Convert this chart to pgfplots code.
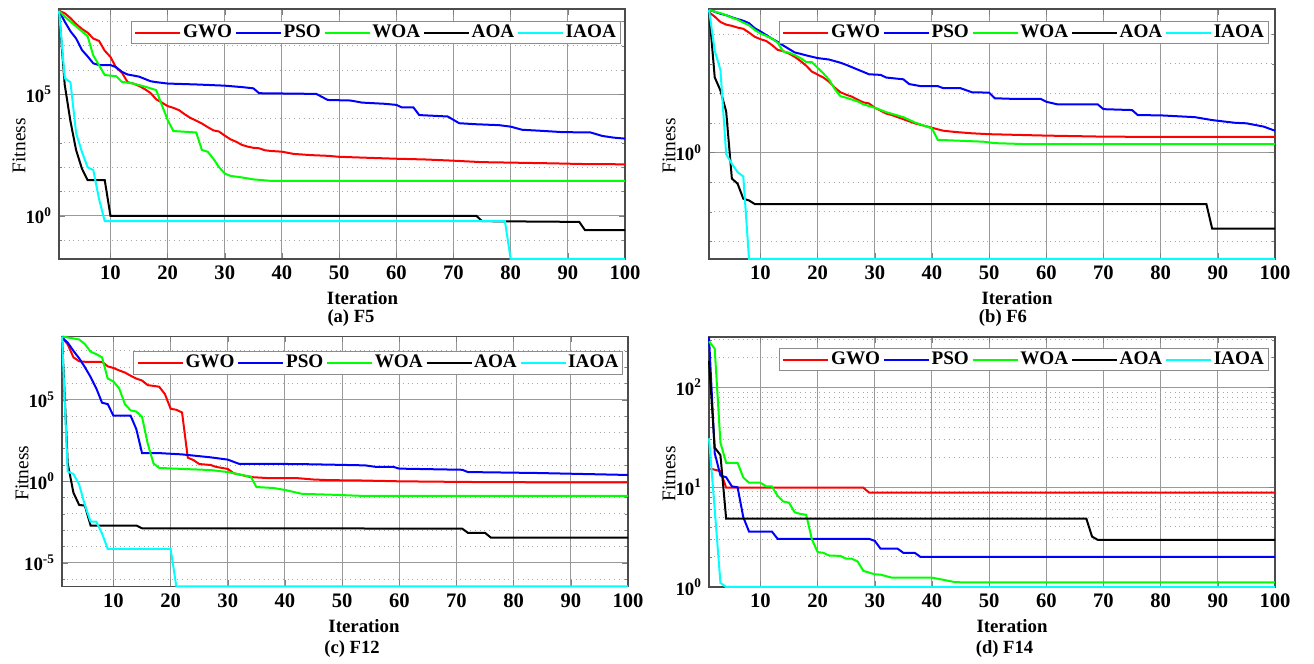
\documentclass[border=0pt]{standalone}
\usepackage{fontspec}
\setmainfont{Liberation Serif}
\usepackage{pgfplots}
\pgfplotsset{compat=1.18}

\definecolor{cgwo}{RGB}{255,0,0}
\definecolor{cpso}{RGB}{0,0,255}
\definecolor{cwoa}{RGB}{0,255,0}
\definecolor{caoa}{RGB}{0,0,0}
\definecolor{ciaoa}{RGB}{0,255,255}

\pgfplotsset{
  myaxis/.style={
    scale only axis, width=283pt, height=125pt,
    anchor=south west,
    xmin=1, xmax=100,
    xtick={10,20,...,100},
    tick align=inside,
    major tick length=3pt, minor tick length=1.5pt,
    xmajorgrids, ymajorgrids, yminorgrids,
    major grid style={black!40, line width=0.5pt},
    minor grid style={black!35, dotted, line width=0.5pt},
    axis line style={black!70, line width=0.6pt},
    xticklabel style={font=\bfseries\fontsize{10.3}{12}\selectfont},
    yticklabel style={font=\bfseries\fontsize{9.4}{11}\selectfont},
    /pgf/number format/assume math mode=true,
    ylabel={Fitness},
    ylabel style={font=\fontsize{9.7}{11}\selectfont, at={(axis description cs:-0.0707,0.453)}, anchor=center},
    clip=false,
    legend columns=5,
    legend style={anchor=north east, draw=black!45, line width=0.5pt, fill=white,
      font=\bfseries\fontsize{9.6}{10}\selectfont, inner xsep=1.5pt, inner ysep=0.8pt,
      nodes={inner sep=0.8pt},
      /tikz/every even column/.append style={column sep=0.6pt}},
    legend image code/.code={\draw[##1] (0pt,0pt) -- (22.5pt,0pt);},
    every axis plot/.append style={line width=1pt, mark=none},
  }
}

\begin{document}
\begin{tikzpicture}
\path[use as bounding box] (0,0) rectangle (657pt,332pt);

% ---------------- (a) F5 ----------------
\begin{axis}[ymode=log, myaxis, at={(29.5pt,202.5pt)},
  ymin=0.0166, ymax=3.3e8,
  ytick={1,1e5}, yticklabels={10\textsuperscript{0},10\textsuperscript{5}},
  minor ytick={1e-1,1e1,1e2,1e3,1e4,1e6,1e7,1e8},
  legend style={at={(rel axis cs:0.9929,0.952)}}]
\addplot[cgwo] coordinates {(1,2.8e8)(2,2.2e8)(3,1.4e8)(4,7.9e7)(5,5.0e7)(6,3.5e7)(7,2.0e7)(8,1.6e7)(9,6.3e6)(10,3.5e6)(11,1.26e6)(12,7.9e5)(13,3.2e5)(14,2.8e5)(15,2.24e5)(16,1.66e5)(17,1.15e5)(18,6.3e4)(19,4.6e4)(20,3.3e4)(21,2.8e4)(22,2.24e4)(23,1.51e4)(24,1.07e4)(25,8.3e3)(26,6.3e3)(27,4.5e3)(28,3.3e3)(29,2.95e3)(30,2.0e3)(31,1.41e3)(32,1.12e3)(33,832)(34,708)(35,631)(36,603)(37,501)(38,468)(40,437)(42,355)(45,316)(48,295)(50,269)(55,245)(60,224)(65,209)(70,186)(75,162)(80,155)(87,145)(93,135)(100,132)};
\addplot[cpso] coordinates {(1,2.8e8)(2,1.0e8)(3,4.0e7)(4,2.0e7)(5,6.8e6)(6,3.7e6)(7,1.9e6)(8,1.62e6)(10,1.62e6)(11,1.32e6)(12,8.5e5)(13,6.6e5)(14,6.0e5)(15,5.4e5)(17,3.5e5)(18,3.2e5)(20,2.8e5)(25,2.57e5)(30,2.29e5)(33,2.0e5)(35,1.78e5)(36,1.12e5)(46,1.05e5)(48,5.9e4)(52,5.6e4)(54,4.6e4)(58,4.1e4)(60,3.7e4)(61,2.9e4)(63,2.9e4)(64,1.41e4)(69,1.23e4)(71,6.5e3)(74,5.9e3)(78,5.4e3)(80,4.7e3)(82,3.5e3)(85,3.2e3)(89,2.8e3)(94,2.7e3)(96,1.95e3)(98,1.66e3)(100,1.51e3)};
\addplot[cwoa] coordinates {(1,2.8e8)(2,1.6e8)(3,1.0e8)(4,6.3e7)(5,4.0e7)(6,2.5e7)(7,4.0e6)(8,1.6e6)(9,6.3e5)(11,5.6e5)(12,3.3e5)(14,2.8e5)(16,2.1e5)(18,1.51e5)(19,3.6e4)(20,8.9e3)(21,3.1e3)(25,2.7e3)(26,513)(27,437)(28,224)(29,100)(30,55)(31,44)(33,38)(35,31.6)(37,28.8)(38,27.5)(100,27.5)};
\addplot[caoa] coordinates {(1,2.8e8)(2,2.5e5)(3,7.9e3)(4,500)(5,89)(6,29.5)(9,29.5)(10,1.0)(74,1.0)(75,0.60)(92,0.56)(93,0.257)(100,0.257)};
\addplot[ciaoa] coordinates {(1,2.8e8)(2,4.6e5)(3,3.2e5)(4,2.5e3)(5,437)(6,100)(7,76)(8,5.0)(9,0.60)(79,0.60)(80,0.0166)(100,0.0166)};
\legend{GWO,PSO,WOA,AOA,IAOA}
\end{axis}

% ---------------- (b) F6 ----------------
\begin{axis}[ymode=log, myaxis, at={(354.5pt,202.5pt)},
  ymin=2.51e-4, ymax=7.24e4,
  ytick={1}, yticklabels={10\textsuperscript{0}},
  minor ytick={1e-3,1e-2,1e-1,1e1,1e2,1e3,1e4},
  legend style={at={(rel axis cs:0.9894,0.952)}}]
\addplot[cgwo] coordinates {(1,5.6e4)(2,4.0e4)(3,2.63e4)(4,2.14e4)(5,1.95e4)(6,1.7e4)(7,1.55e4)(8,1.15e4)(9,8.3e3)(10,6.9e3)(11,6.0e3)(12,4.4e3)(13,3.0e3)(14,2.7e3)(15,2.24e3)(16,1.74e3)(17,1.26e3)(18,871)(19,550)(20,437)(21,347)(22,251)(23,158)(24,110)(25,91)(26,78)(27,62)(28,50)(29,46)(30,33)(32,21)(33,18.6)(35,13.5)(37,9.8)(40,6.9)(42,5.5)(44,5.0)(47,4.5)(50,4.2)(60,3.76)(70,3.47)(80,3.39)(100,3.39)};
\addplot[cpso] coordinates {(1,6.8e4)(3,5.0e4)(4,4.47e4)(5,3.8e4)(6,3.3e4)(7,2.9e4)(8,2.4e4)(9,1.62e4)(10,1.26e4)(11,9.5e3)(12,7.2e3)(13,5.6e3)(14,4.2e3)(15,3.2e3)(16,2.45e3)(17,2.2e3)(18,1.95e3)(20,1.58e3)(22,1.41e3)(24,1.1e3)(25,933)(27,646)(29,447)(31,427)(32,347)(35,302)(36,209)(38,178)(41,178)(42,151)(45,151)(47,110)(50,107)(51,69)(54,66)(59,66)(60,52.5)(62,42.7)(69,42.7)(70,29.5)(75,27.5)(76,18.6)(80,18.2)(86,15.8)(89,12.6)(93,10.2)(95,9.8)(98,7.6)(100,5.5)};
\addplot[cwoa] coordinates {(1,6.8e4)(2,5.9e4)(3,5.25e4)(4,4.47e4)(5,3.7e4)(6,3.16e4)(7,2.5e4)(8,2.04e4)(9,1.41e4)(10,1.07e4)(11,8.9e3)(12,7.2e3)(13,5.25e3)(14,2.63e3)(15,2.4e3)(16,2.0e3)(17,1.58e3)(18,1.17e3)(19,1.15e3)(20,741)(21,479)(22,295)(23,141)(24,81)(25,72)(27,54)(28,43)(30,33)(32,23.4)(35,15.8)(37,10.5)(40,6.6)(41,2.7)(49,2.34)(51,2.09)(56,1.95)(100,1.95)};
\addplot[caoa] coordinates {(1,6.8e4)(2,355)(3,126)(4,25)(5,0.132)(6,0.089)(7,0.0275)(8,0.024)(9,0.0182)(88,0.0182)(89,0.0027)(100,0.0027)};
\addplot[ciaoa] coordinates {(1,6.8e4)(2,2.8e3)(3,631)(4,0.89)(5,0.417)(6,0.219)(7,0.155)(8,2.51e-4)(100,2.51e-4)};
\legend{GWO,PSO,WOA,AOA,IAOA}
\end{axis}

% ---------------- (c) F12 ----------------
\begin{axis}[ymode=log, myaxis, at={(31pt,38.75pt)},
  ymin=3.55e-7, ymax=7.6e8,
  ytick={1e-5,1,1e5}, yticklabels={10\textsuperscript{-5},10\textsuperscript{0},10\textsuperscript{5}},
  minor ytick={1e-6,1e-4,1e-3,1e-2,1e-1,1e1,1e2,1e3,1e4,1e6,1e7,1e8},
  legend style={at={(rel axis cs:0.992,0.94)}}]
\addplot[cgwo] coordinates {(1,6.6e8)(2,2.5e8)(3,4.0e7)(4,2.3e7)(5,2.14e7)(8,2.14e7)(9,1.12e7)(10,8.9e6)(11,6.3e6)(12,4.7e6)(13,3.0e6)(14,2.0e6)(15,1.51e6)(16,7.9e5)(17,7.1e5)(18,6.3e5)(19,2.24e5)(20,2.8e4)(21,2.45e4)(22,1.66e4)(23,28.2)(24,20)(25,11.5)(27,10)(28,7.6)(30,5.75)(31,3.16)(32,2.63)(34,1.82)(37,1.58)(42,1.58)(45,1.29)(48,1.17)(52,1.15)(60,1.0)(72,0.91)(84,0.87)(100,0.87)};
\addplot[cpso] coordinates {(1,6.6e8)(2,3.2e8)(3,1.0e8)(4,3.5e7)(5,1.0e7)(6,2.5e6)(7,5.0e5)(8,6.6e4)(9,5.4e4)(10,1.05e4)(13,1.05e4)(14,1.58e3)(15,53.7)(18,53.7)(22,44.7)(27,29.5)(30,21.4)(31,15.8)(32,11.7)(42,11.5)(48,10.5)(54,9.5)(56,7.6)(59,7.6)(60,6.0)(71,5.1)(72,3.7)(84,3.24)(100,2.45)};
\addplot[cwoa] coordinates {(1,7.6e8)(4,5.0e8)(5,2.6e8)(6,8.9e7)(7,6.3e7)(8,4.0e7)(9,2.0e6)(10,1.32e6)(11,5.0e5)(12,5.4e4)(13,2.24e4)(14,1.9e4)(15,8.9e3)(16,200)(17,12.6)(18,6.6)(22,5.75)(27,4.9)(30,3.7)(33,2.24)(34,2.0)(35,0.447)(38,0.389)(40,0.295)(43,0.17)(48,0.151)(54,0.126)(100,0.126)};
\addplot[caoa] coordinates {(1,7.6e8)(2,12.6)(3,0.2)(4,0.0355)(5,0.0324)(6,1.95e-3)(14,1.95e-3)(15,1.32e-3)(71,1.26e-3)(72,6.9e-4)(75,6.9e-4)(76,3.55e-4)(100,3.55e-4)};
\addplot[ciaoa] coordinates {(1,7.6e8)(2,4.0)(3,2.8)(4,0.63)(5,0.0355)(6,3.4e-3)(7,3.4e-3)(8,6.3e-4)(9,7.2e-5)(20,7.2e-5)(21,3.55e-7)(100,3.55e-7)};
\legend{GWO,PSO,WOA,AOA,IAOA}
\end{axis}

% ---------------- (d) F14 ----------------
\begin{axis}[ymode=log, myaxis, at={(354.5pt,38.5pt)},
  ymin=1, ymax=321,
  ytick={1,10,100}, yticklabels={10\textsuperscript{0},10\textsuperscript{1},10\textsuperscript{2}},
  minor ytick={2,3,4,5,6,7,8,9,20,30,40,50,60,70,80,90,200,300},
  legend style={at={(rel axis cs:0.9894,0.956)}}]
\addplot[cgwo] coordinates {(1,15.4)(2,15.0)(3,14.5)(4,9.9)(28,9.9)(29,8.85)(100,8.85)};
\addplot[cpso] coordinates {(1,321)(2,22)(3,13.1)(4,12.6)(5,10.2)(6,10.0)(7,5.0)(8,3.6)(12,3.6)(13,3.04)(29,3.04)(30,2.9)(31,2.42)(34,2.42)(35,2.2)(37,2.2)(38,2.0)(100,2.0)};
\addplot[cwoa] coordinates {(1,290)(2,245)(3,28)(4,17.6)(6,17.6)(7,12.5)(8,11.1)(10,11.1)(11,10.2)(12,10.2)(13,8.2)(14,7.2)(15,7.0)(16,5.6)(17,5.4)(18,5.3)(19,3.0)(20,2.24)(21,2.2)(22,2.07)(24,2.05)(25,1.92)(26,1.92)(27,1.8)(28,1.45)(30,1.34)(31,1.33)(33,1.24)(40,1.24)(42,1.18)(44,1.12)(46,1.11)(100,1.11)};
\addplot[caoa] coordinates {(1,185)(2,25)(3,21)(4,4.85)(67,4.85)(68,3.2)(69,2.97)(100,2.97)};
\addplot[ciaoa] coordinates {(1,31)(2,6.0)(3,1.1)(4,1.0)(100,1.0)};
\legend{GWO,PSO,WOA,AOA,IAOA}
\end{axis}

% ---- labels and captions ----
\node[font=\bfseries\fontsize{9.4}{11}\selectfont, anchor=base] at (181.25pt,179.5pt) {Iteration};
\node[font=\bfseries\fontsize{9.4}{11}\selectfont, anchor=base] at (508.5pt,179.5pt) {Iteration};
\node[font=\bfseries\fontsize{9.4}{11}\selectfont, anchor=base] at (182pt,15.5pt) {Iteration};
\node[font=\bfseries\fontsize{9.4}{11}\selectfont, anchor=base] at (506pt,15.5pt) {Iteration};
\node[font=\bfseries\fontsize{9.3}{11}\selectfont, anchor=base] at (175.5pt,170.5pt) {(a) F5};
\node[font=\bfseries\fontsize{9.3}{11}\selectfont, anchor=base] at (501.5pt,170.5pt) {(b) F6};
\node[font=\bfseries\fontsize{9.3}{11}\selectfont, anchor=base] at (176pt,5pt) {(c) F12};
\node[font=\bfseries\fontsize{9.3}{11}\selectfont, anchor=base] at (502.25pt,5pt) {(d) F14};
\end{tikzpicture}
\end{document}
